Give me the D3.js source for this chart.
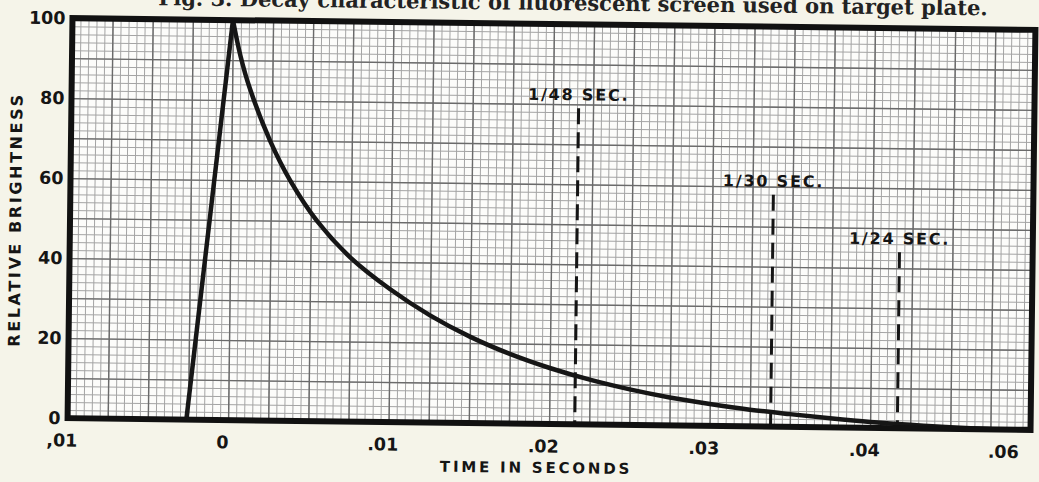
<!DOCTYPE html>
<html>
<head>
<meta charset="utf-8">
<script src="https://cdn.jsdelivr.net/npm/d3@7"></script>
<style>
	html, body { margin: 0; padding: 0; background: #f5f4e9; overflow: hidden; }
	svg { display: block; }
	.lbl { font-family: 'DejaVu Sans', sans-serif; font-weight: bold; fill: #151515; }
</style>
</head>
<body>
<svg width="1039" height="482"></svg>
<script>
// values
let riseTime = [-0.0026, 0];
let riseValue = [0, 100];

let decayTime = [0, 0.0005, 0.0011, 0.0024, 0.0037, 0.0054, 0.0075, 0.010, 0.0125, 0.015, 0.0175, 0.020, 0.0225, 0.025, 0.0275, 0.030, 0.0325, 0.035, 0.0375, 0.040, 0.0425, 0.045, 0.048];
let decayValue = [100, 91, 83, 70, 60, 50, 41, 33.2, 26.8, 21.6, 17.4, 14, 11.2, 8.9, 7, 5.5, 4.2, 3.2, 2.3, 1.5, 0.9, 0.4, 0];

let markerLabels = ['1/48 SEC.', '1/30 SEC.', '1/24 SEC.'];
let markerTime = [0.0216, 0.0338, 0.0417];
let markerTop = [79, 58, 44];

let xTicks = [-0.01, 0, 0.01, 0.02, 0.03, 0.04, 0.05];
let xTickLabels = [',01', '0', '.01', '.02', '.03', '.04', '.06'];
let yTicks = [0, 20, 40, 60, 80, 100];

let titleText = 'Fig. 3. Decay characteristic of fluorescent screen used on target plate.';

let svg = d3.select('svg');
let margin = { 'top': 24, 'right': 6, 'bottom': 58, 'left': 70 };
let width = +svg.attr('width') - margin.left - margin.right;
let height = +svg.attr('height') - margin.top - margin.bottom;

// the scan sits slightly crooked
let page = svg
	.append('g')
	.attr('transform', 'rotate(0.7, 551, 224)');

page
	.append('text')
	.attr('x', 985)
	.attr('y', 10)
	.attr('text-anchor', 'end')
	.style('font-family', "'DejaVu Serif', serif")
	.style('font-weight', 'bold')
	.style('font-size', '21px')
	.style('fill', '#222')
	.text(titleText);

let chart = page
	.append('g')
	.attr('transform', 'translate(' + margin.left + ', ' + margin.top + ')');

let x = d3
	.scaleLinear()
	.domain([-0.01, 0.05])
	.range([0, width]);

let y = d3
	.scaleLinear()
	.domain([0, 100])
	.range([height, 0]);

chart
	.append('rect')
	.attr('width', width)
	.attr('height', height)
	.attr('fill', '#fcfcfa');

// graph paper
let fineX = d3.range(0, 121).map(i => -0.01 + i * 0.0005);
let midX = d3.range(0, 25).map(i => -0.01 + i * 0.0025);
let fineY = d3.range(0, 101, 2);
let midY = d3.range(0, 101, 10);

function grid(cls, xs, ys, color, w) {
	let g = chart.append('g').attr('class', cls);
	g.append('g')
		.attr('transform', 'translate(0, ' + height + ')')
		.call(d3.axisBottom(x).tickValues(xs).tickSize(-height).tickFormat(''));
	g.append('g')
		.call(d3.axisLeft(y).tickValues(ys).tickSize(-width).tickFormat(''));
	g.selectAll('.domain').remove();
	g.selectAll('line')
		.attr('stroke', color)
		.attr('stroke-width', w);
}

grid('fine', fineX, fineY, '#a4a4a4', 1);
grid('mid', midX, midY, '#6a6a6a', 1.4);

// decay curve
let riseData = riseTime.map((t, i) => ({ t: t, v: riseValue[i] }));
let decayData = decayTime.map((t, i) => ({ t: t, v: decayValue[i] }));

let riseLine = d3.line()
	.x(d => x(d.t))
	.y(d => y(d.v));

let decayLine = d3.line()
	.x(d => x(d.t))
	.y(d => y(d.v))
	.curve(d3.curveCatmullRom.alpha(0.5));

chart
	.append('path')
	.datum(riseData)
	.attr('fill', 'none')
	.attr('stroke', '#161616')
	.attr('stroke-width', 4.5)
	.attr('d', riseLine);

chart
	.append('path')
	.datum(decayData)
	.attr('fill', 'none')
	.attr('stroke', '#161616')
	.attr('stroke-width', 4.5)
	.attr('d', decayLine);

// frame rates
let markers = markerLabels.map((l, i) => ({ label: l, t: markerTime[i], top: markerTop[i] }));

chart
	.selectAll('.marker')
	.data(markers)
	.enter()
	.append('line')
	.attr('class', 'marker')
	.attr('x1', d => x(d.t))
	.attr('x2', d => x(d.t))
	.attr('y1', d => y(d.top))
	.attr('y2', y(0))
	.attr('stroke', '#151515')
	.attr('stroke-width', 3)
	.attr('stroke-dasharray', '16,8');

chart
	.selectAll('.markerLabel')
	.data(markers)
	.enter()
	.append('text')
	.attr('class', 'lbl markerLabel')
	.attr('x', d => x(d.t))
	.attr('y', d => y(d.top) - 8)
	.attr('text-anchor', 'middle')
	.style('font-size', '16px')
	.style('letter-spacing', '1.8px')
	.text(d => d.label);

// frame
chart
	.append('rect')
	.attr('width', width)
	.attr('height', height)
	.attr('fill', 'none')
	.attr('stroke', '#111')
	.attr('stroke-width', 6);

// axes labels
let xAxis = d3.axisBottom(x)
	.tickValues(xTicks)
	.tickSize(0)
	.tickPadding(16)
	.tickFormat((d, i) => xTickLabels[i]);

let xg = chart
	.append('g')
	.attr('transform', 'translate(0, ' + height + ')')
	.call(xAxis);

let yAxis = d3.axisLeft(y)
	.tickValues(yTicks)
	.tickSize(0)
	.tickPadding(7);

let yg = chart
	.append('g')
	.call(yAxis);

[xg, yg].forEach(g => {
	g.select('.domain').remove();
	g.selectAll('text')
		.attr('class', 'lbl')
		.style('font-size', '17.5px');
});

xg.selectAll('text')
	.attr('dx', -6);

xg.selectAll('.tick:last-of-type text')
	.attr('text-anchor', 'end')
	.attr('dx', -12);

chart
	.append('text')
	.attr('class', 'lbl')
	.attr('x', 469)
	.attr('y', height + 49)
	.attr('text-anchor', 'middle')
	.style('font-size', '15px')
	.style('letter-spacing', '2.8px')
	.text('TIME IN SECONDS');

chart
	.append('text')
	.attr('class', 'lbl')
	.attr('transform', 'translate(-49, ' + (height / 2 + 2) + ') rotate(-90)')
	.attr('text-anchor', 'middle')
	.style('font-size', '16px')
	.style('letter-spacing', '2.6px')
	.text('RELATIVE BRIGHTNESS');
</script>
</body>
</html>
